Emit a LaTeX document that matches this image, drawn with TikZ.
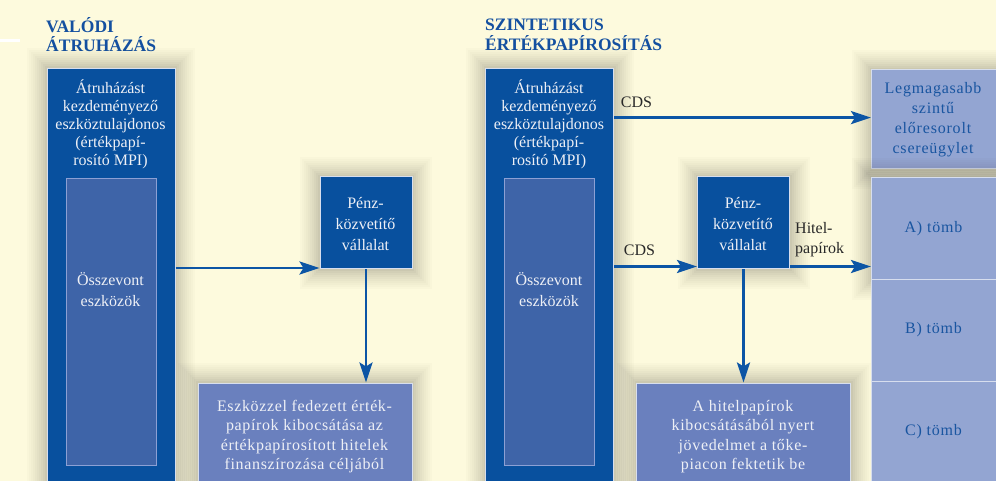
\documentclass[tikz,border=0pt]{standalone}
\usepackage{fontspec}
\setmainfont{Liberation Serif}
\newfontfamily\spacedfont[LetterSpace=5]{Liberation Serif}
\newfontfamily\spacedfontb[LetterSpace=4]{Liberation Serif}
\usetikzlibrary{arrows.meta}
\definecolor{bgcream}{RGB}{253,250,221}
\definecolor{dkblue}{RGB}{8,80,158}
\definecolor{inblue}{RGB}{62,100,168}
\definecolor{midblue}{RGB}{106,128,190}
\definecolor{ltblue}{RGB}{147,165,210}
\definecolor{coltxt}{RGB}{25,85,160}
\definecolor{arrblue}{RGB}{12,85,165}
\definecolor{titblue}{RGB}{20,80,160}
\definecolor{boxtxt}{RGB}{238,240,246}
\definecolor{lbltxt}{RGB}{40,40,40}
\definecolor{edgewhite}{RGB}{215,222,238}
\definecolor{inedge}{RGB}{140,160,212}
\begin{document}
\begin{tikzpicture}[x=1pt,y=-1pt,
  halo/.style={
    preaction={draw=black!80,line width=40pt,opacity=0.018},
    preaction={draw=black!80,line width=36pt,opacity=0.018},
    preaction={draw=black!80,line width=32pt,opacity=0.02},
    preaction={draw=black!80,line width=28pt,opacity=0.02},
    preaction={draw=black!80,line width=24pt,opacity=0.022},
    preaction={draw=black!80,line width=20pt,opacity=0.024},
    preaction={draw=black!80,line width=16pt,opacity=0.026},
    preaction={draw=black!80,line width=12pt,opacity=0.03},
    preaction={draw=black!80,line width=8pt,opacity=0.034},
    preaction={draw=black!80,line width=4pt,opacity=0.04}},
  darkbox/.style={rectangle,inner sep=0pt,fill=dkblue,draw=edgewhite,line width=1pt,anchor=north west},
  innerbox/.style={rectangle,inner sep=0pt,fill=inblue,draw=inedge,line width=1.2pt,anchor=north west},
  midbox/.style={rectangle,inner sep=0pt,fill=midblue,draw=edgewhite,line width=1pt,anchor=north west},
  colbox/.style={rectangle,inner sep=0pt,fill=ltblue,draw=edgewhite,line width=1.2pt,anchor=north west},
  boxtext/.style={inner sep=0pt,align=center,text=boxtxt,font=\fontsize{16}{18}\selectfont},
  bottext/.style={inner sep=0pt,align=center,text=boxtxt,font=\spacedfontb\fontsize{16}{19.3}\selectfont},
  coltext/.style={inner sep=0pt,align=center,text=coltxt,font=\spacedfont\fontsize{16}{20}\selectfont},
  lbl/.style={inner sep=0pt,text=lbltxt,font=\fontsize{16}{20}\selectfont},
  titletext/.style={inner sep=0pt,align=left,anchor=west,text=titblue,font=\bfseries\fontsize{17.5}{19.5}\selectfont},
  arr/.style={draw=arrblue,line width=2.8pt,-{Stealth[length=20pt,width=13pt,inset=4pt]}}
]
\path[use as bounding box,fill=bgcream] (0,0) rectangle (996,481);
\fill[white] (0,39.5) rectangle (20,42.5);

% titles
\node[titletext] (tit1) at (46,34.5) {VALÓDI\\ÁTRUHÁZÁS};
\node[titletext] (tit2) at (485,35) {SZINTETIKUS\\ÉRTÉKPAPÍROSÍTÁS};

% ---------- left panel ----------
\node[darkbox,halo,minimum width=128pt,minimum height=427pt] (bigL) at (46.5,68) {};
\node[innerbox,minimum width=90pt,minimum height=287pt] (inL) at (65.5,178) {};
\node[boxtext] (tL) at (110.5,124) {Átruházást\\kezdeményező\\eszköztulajdonos\\(értékpapí-\\rosító MPI)};
\node[boxtext,font=\fontsize{16}{21}\selectfont] (oL) at (110.5,290) {Összevont\\eszközök};

\node[darkbox,halo,minimum width=92pt,minimum height=91.5pt] (penzL) at (319.5,176.5) {};
\node[boxtext,font=\fontsize{16}{21}\selectfont] (ptL) at (365.5,224) {Pénz-\\közvetítő\\vállalat};

\node[midbox,halo,minimum width=214pt,minimum height=115pt] (botL) at (197.5,382.5) {};
\node[bottext] (btL) at (304.5,436.7) {Eszközzel fedezett érték-\\papírok kibocsátása az\\értékpapírosított hitelek\\finanszírozása céljából};

\coordinate (inL1) at ([yshift=1pt]penzL.south west);
\draw[arr] (bigL.east |- inL1) -- (inL1);
\draw[arr] (penzL.south) -- (penzL.south |- botL.north);

% ---------- right panel ----------
\node[darkbox,halo,minimum width=128pt,minimum height=427pt] (bigR) at (485,68) {};
\node[innerbox,minimum width=90pt,minimum height=287pt] (inR) at (504,178) {};
\node[boxtext] (tR) at (549,124) {Átruházást\\kezdeményező\\eszköztulajdonos\\(értékpapí-\\rosító MPI)};
\node[boxtext,font=\fontsize{16}{21}\selectfont] (oR) at (549,290) {Összevont\\eszközök};

\node[darkbox,halo,minimum width=92pt,minimum height=91.5pt] (penzR) at (697,176.5) {};
\node[boxtext,font=\fontsize{16}{21}\selectfont] (ptR) at (743,224) {Pénz-\\közvetítő\\vállalat};

\node[midbox,halo,minimum width=214pt,minimum height=115pt] (botR) at (636,382.5) {};
\node[bottext] (btR) at (743,436.5) {A hitelpapírok\\kibocsátásából nyert\\jövedelmet a tőke-\\piacon fektetik be};

% right column
\node[colbox,halo,minimum width=135pt,minimum height=99pt] (legm) at (871,69) {};
\node[coltext] (legt) at (933,119.5) {Legmagasabb\\szintű\\előresorolt\\csereügylet};
\node[colbox,halo,minimum width=135pt,minimum height=102pt] (trA) at (871,177) {};
\node[colbox,minimum width=135pt,minimum height=102pt] (trB) at (871,279) {};
\node[colbox,minimum width=135pt,minimum height=120pt] (trC) at (871,381) {};
\node[coltext] (tA) at (933.5,228.5) {A) tömb};
\node[coltext] (tB) at (933.5,330) {B) tömb};
\node[coltext] (tC) at (933.5,431.5) {C) tömb};

% arrows right
\coordinate (cdsTop) at ([yshift=1.5pt]legm.west);
\draw[arr] (bigR.east |- cdsTop) -- (cdsTop);
\node[lbl] (cds1) at (636.5,102) {CDS};

\coordinate (inR1) at ([yshift=2.5pt]penzR.south west);
\draw[arr] (bigR.east |- inR1) -- (inR1);
\node[lbl] (cds2) at (639.5,250) {CDS};

\coordinate (outR1) at ([yshift=2.5pt]penzR.south east);
\draw[arr] (outR1) -- (trA.west |- outR1);
\node[lbl,align=left,anchor=west] (hitel) at (795,240) {Hitel-\\papírok};

\draw[arr] (penzR.south) -- (penzR.south |- botR.north);
\end{tikzpicture}
\end{document}
